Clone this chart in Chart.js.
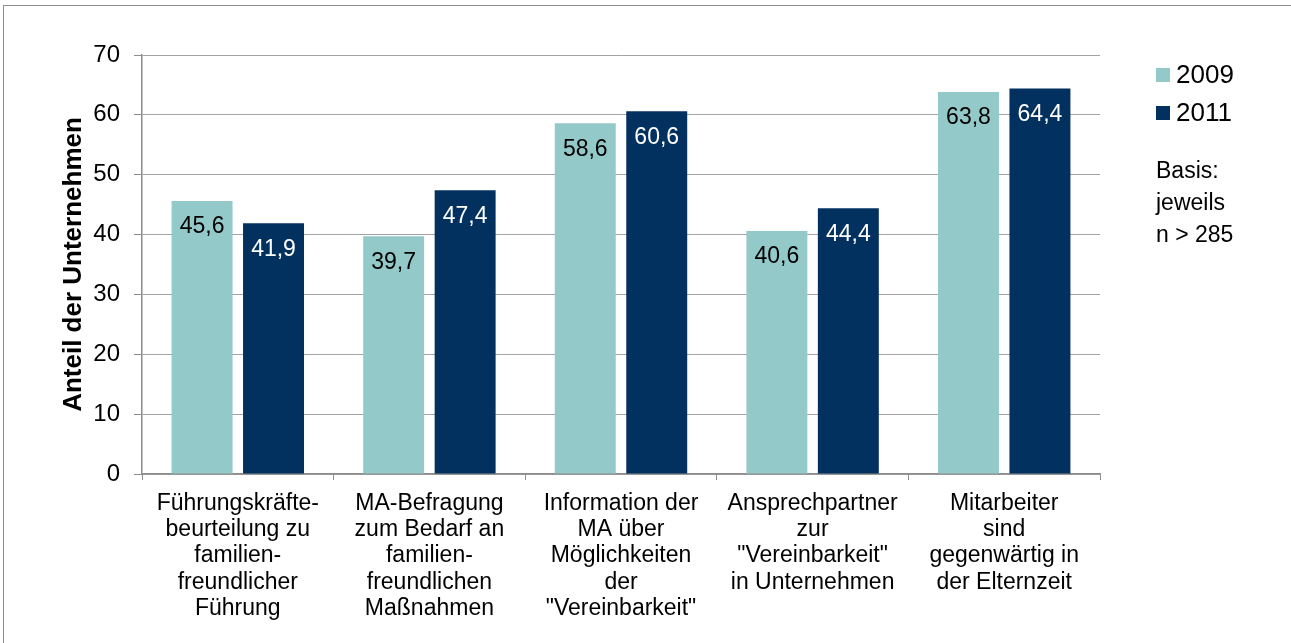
<!DOCTYPE html>
<html lang="de">
<head>
  <meta charset="UTF-8">
  <title>Anteil der Unternehmen</title>
  <script src="https://cdn.jsdelivr.net/npm/chart.js"></script>
  <style>
    body {
      margin: 0;
      background: #fff;
      overflow: hidden;
    }
    .rahmen {
      position: absolute;
      left: 3px;
      top: 5px;
      width: 1400px;
      height: 800px;
      border: 1px solid #8c8c8c;
    }
    #balken {
      position: absolute;
      left: 0;
      top: 0;
    }
  </style>
</head>
<body>
  <div class="rahmen"></div>
  <canvas id="balken" width="1291" height="643"></canvas>

  <script>
    const kategorien = [
      ['Führungskräfte-', 'beurteilung zu', 'familien-', 'freundlicher', 'Führung'],
      ['MA-Befragung', 'zum Bedarf an', 'familien-', 'freundlichen', 'Maßnahmen'],
      ['Information der', 'MA über', 'Möglichkeiten', 'der', '"Vereinbarkeit"'],
      ['Ansprechpartner', 'zur', '"Vereinbarkeit"', 'in Unternehmen'],
      ['Mitarbeiter', 'sind', 'gegenwärtig in', 'der Elternzeit']
    ];
    const werte2009 = [45.6, 39.7, 58.6, 40.6, 63.8];
    const werte2011 = [41.9, 47.4, 60.6, 44.4, 64.4];
    const jahre = ['2009', '2011'];
    const hinweis = ['Basis:', 'jeweils', 'n > 285'];

    const schrift = "'Liberation Sans', Arial, sans-serif";
    const farben = ['#93c9c8', '#03315f'];
    const labelFarben = ['#000000', '#ffffff'];

    // Werte oben in den Balken, Legende und Hinweis rechts
    const beschriftung = {
      id: 'beschriftung',
      afterDatasetsDraw(chart) {
        const ctx = chart.ctx;
        ctx.save();
        ctx.font = '23px ' + schrift;
        ctx.textAlign = 'center';
        ctx.textBaseline = 'middle';
        chart.data.datasets.forEach((ds, i) => {
          ctx.fillStyle = labelFarben[i];
          chart.getDatasetMeta(i).data.forEach((bar, j) => {
            ctx.fillText(ds.data[j].toFixed(1).replace('.', ','), bar.x, bar.y + 26);
          });
        });

        // Legende
        ctx.textAlign = 'left';
        ctx.font = '26px ' + schrift;
        jahre.forEach((j, i) => {
          const y = 75 + i * 38;
          ctx.fillStyle = farben[i];
          ctx.fillRect(1156, y - 7, 14, 14);
          ctx.fillStyle = '#000';
          ctx.fillText(j, 1176, y + 1);
        });

        ctx.font = '23px ' + schrift;
        hinweis.forEach((t, i) => {
          ctx.fillText(t, 1156, 172 + i * 32);
        });
        ctx.restore();
      }
    };

    new Chart(document.getElementById('balken'), {
      type: 'bar',
      data: {
        labels: kategorien,
        datasets: [
          { label: jahre[0], data: werte2009, backgroundColor: farben[0] },
          { label: jahre[1], data: werte2011, backgroundColor: farben[1] }
        ]
      },
      options: {
        responsive: false,
        animation: false,
        categoryPercentage: 0.746,
        barPercentage: 0.853,
        layout: {
          padding: { left: 0, right: 191, top: 55, bottom: 0 }
        },
        scales: {
          y: {
            min: 0,
            max: 70,
            ticks: {
              stepSize: 10,
              padding: 14,
              color: '#000',
              font: { family: schrift, size: 24 }
            },
            grid: {
              color: '#a3a3a3',
              tickLength: 8,
              tickColor: '#8c8c8c'
            },
            border: { color: '#8c8c8c', width: 1.5 },
            title: {
              display: true,
              text: 'Anteil der Unternehmen',
              color: '#000',
              font: { family: schrift, size: 26, weight: 'bold' },
              padding: { top: 58, bottom: 0 }
            },
            afterFit(scale) { scale.width = 142; }
          },
          x: {
            ticks: {
              padding: 10,
              color: '#000',
              maxRotation: 0,
              autoSkip: false,
              font: { family: schrift, size: 23, lineHeight: 1.15 }
            },
            grid: {
              offset: true,
              drawOnChartArea: false,
              tickLength: 6,
              tickColor: '#8c8c8c'
            },
            border: { color: '#8c8c8c', width: 1.5 },
            afterFit(scale) { scale.height = 169; }
          }
        },
        plugins: {
          legend: { display: false },
          tooltip: { enabled: false }
        }
      },
      plugins: [beschriftung]
    });
  </script>
</body>
</html>
